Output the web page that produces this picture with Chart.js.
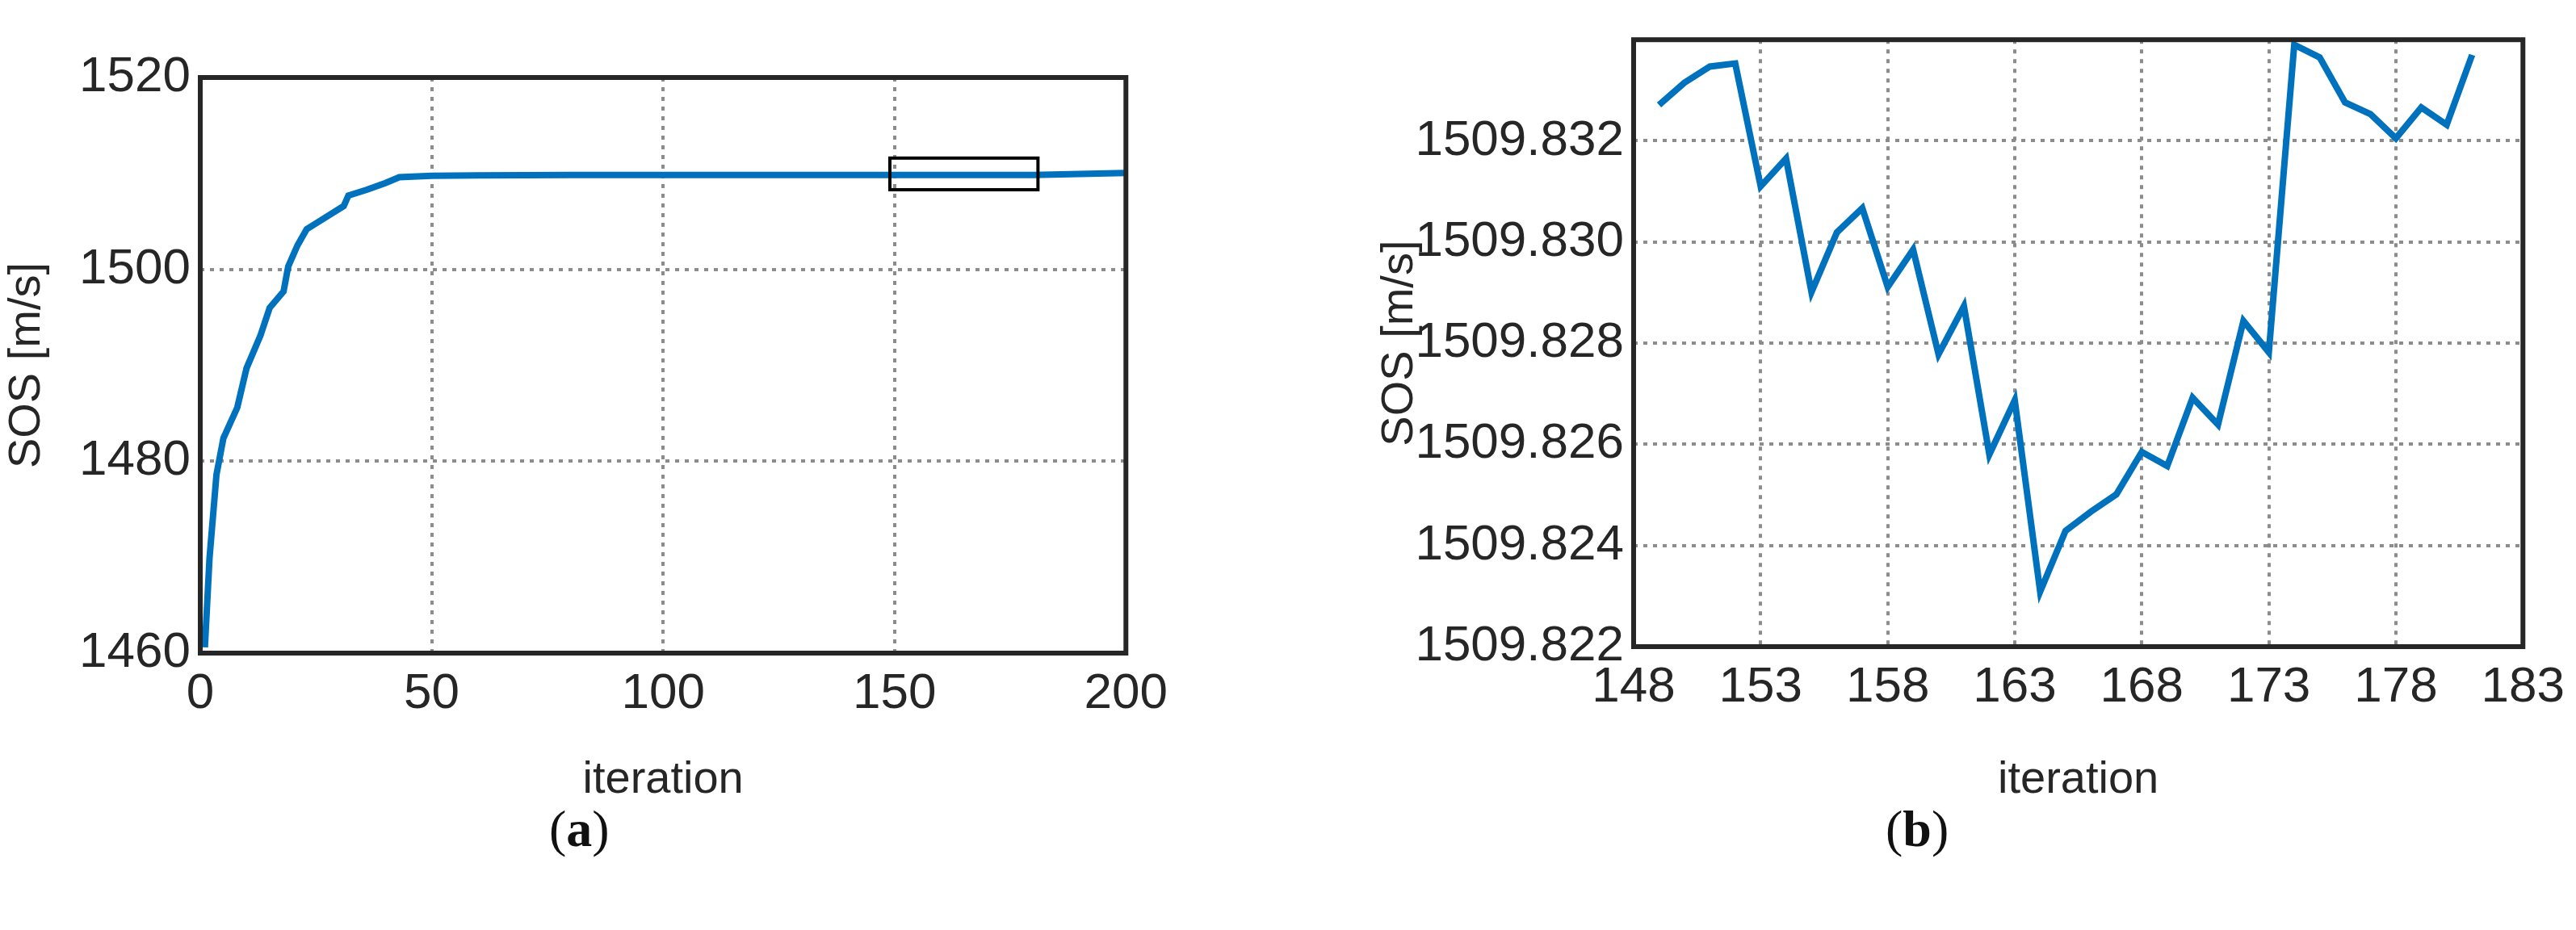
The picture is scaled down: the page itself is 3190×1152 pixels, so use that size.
<!DOCTYPE html>
<html>
<head>
<meta charset="utf-8">
<script src="https://cdn.jsdelivr.net/npm/chart.js@4.4.1/dist/chart.umd.min.js"></script>
<style>
  body { margin: 0; background: #fff; width: 3190px; height: 1152px; position: relative; overflow: hidden; }
  .box { position: absolute; }
  .lab { position: absolute; top: 990px; font-family: "Liberation Serif", serif; font-size: 64px; color: #111; }
</style>
</head>
<body>
<div class="box" style="left:0;top:0;width:1460px;height:1000px"><canvas id="chartA"></canvas></div>
<div class="box" style="left:1700px;top:0;width:1490px;height:1000px"><canvas id="chartB"></canvas></div>
<div class="lab" style="left:680px">(<b>a</b>)</div>
<div class="lab" style="left:2335px">(<b>b</b>)</div>
<script>
// panel (a): whole run
const iterA = [1, 2, 3.5, 5, 8, 10, 13, 15, 18, 19, 21, 23, 26, 31, 32, 36, 40, 43, 50, 60, 80, 100, 120, 140, 160, 180, 190, 200];
const sosA  = [1460.6, 1469.9, 1478.6, 1482.4, 1485.6, 1489.7, 1493.1, 1496.0, 1497.7, 1500.3, 1502.5, 1504.2, 1505.1, 1506.6, 1507.7, 1508.3, 1509.0, 1509.6, 1509.75, 1509.8, 1509.83, 1509.83, 1509.83, 1509.83, 1509.83, 1509.83, 1509.95, 1510.05];

// panel (b): zoom on iterations 149-181
const iterB = [149,150,151,152,153,154,155,156,157,158,159,160,161,162,163,164,165,166,167,168,169,170,171,172,173,174,175,176,177,178,179,180,181];
const sosB  = [1509.83271,1509.83315,1509.83347,1509.83353,1509.83110,1509.83165,1509.82901,1509.83019,1509.83067,1509.82911,
               1509.82985,1509.82778,1509.82873,1509.82580,1509.82687,1509.82309,1509.82429,1509.82467,1509.82501,1509.82585,
               1509.82557,1509.82692,1509.82639,1509.82844,1509.82782,1509.83390,1509.83365,1509.83276,1509.83253,1509.83205,
               1509.83266,1509.83232,1509.83370];

const zoomBox = { x0: 149, x1: 181, y0: 1508.3, y1: 1511.6 };

const tickFont = { family: '"Liberation Sans Narrow", "Liberation Sans", Arial', size: 62 };
const titleFont = { family: '"Liberation Sans", Arial', size: 56 };
const ink = '#262626';

const frame = {
  id: 'frame',
  afterDatasetsDraw(chart) {
    const a = chart.chartArea, ctx = chart.ctx;
    ctx.save();
    ctx.strokeStyle = ink;
    ctx.lineWidth = 6;
    ctx.strokeRect(a.left, a.top, a.right - a.left, a.bottom - a.top);
    const o = chart.options.plugins.frame;
    if (o && o.box) {
      const xs = chart.scales.x, ys = chart.scales.y, b = o.box;
      ctx.lineWidth = 4;
      ctx.strokeStyle = '#000';
      const l = xs.getPixelForValue(b.x0), r = xs.getPixelForValue(b.x1);
      const t = ys.getPixelForValue(b.y1), bt = ys.getPixelForValue(b.y0);
      ctx.strokeRect(l, t, r - l, bt - t);
    }
    ctx.restore();
  }
};

function makeChart(id, xs, ys, opt) {
  return new Chart(document.getElementById(id), {
    type: 'line',
    data: {
      datasets: [{
        data: xs.map((x, i) => ({ x: x, y: ys[i] })),
        borderColor: '#0072BD',
        borderWidth: opt.lw,
        pointRadius: 0,
        tension: 0
      }]
    },
    options: {
      responsive: true,
      maintainAspectRatio: false,
      animation: false,
      layout: { padding: opt.pad },
      plugins: { legend: { display: false }, tooltip: { enabled: false }, frame: { box: opt.box } },
      scales: {
        x: {
          type: 'linear', min: opt.xmin, max: opt.xmax,
          afterFit: s => { s.height = opt.xh; },
          ticks: { stepSize: opt.xstep, color: ink, font: tickFont, padding: 14, maxRotation: 0 },
          grid: { color: '#8c8c8c', lineWidth: 4, drawTicks: false },
          border: { display: false, dash: [5, 7] },
          title: { display: true, text: 'iteration', color: ink, font: titleFont, padding: 0 }
        },
        y: {
          min: opt.ymin, max: opt.ymax,
          afterFit: s => { s.width = opt.yw; },
          ticks: {
            stepSize: opt.ystep, color: ink, font: tickFont, padding: 12,
            callback: opt.ycb
          },
          grid: { color: '#8c8c8c', lineWidth: 4, drawTicks: false },
          border: { display: false, dash: [5, 7] },
          title: { display: true, text: 'SOS [m/s]', color: ink, font: titleFont, padding: 0 }
        }
      }
    },
    plugins: [frame]
  });
}

makeChart('chartA', iterA, sosA, {
  lw: 8, xmin: 0, xmax: 200, xstep: 50, ymin: 1460, ymax: 1520, ystep: 20,
  xh: 191, yw: 248, pad: { top: 96, right: 54, bottom: 0, left: 0 }, box: zoomBox,
  ycb: v => v
});

makeChart('chartB', iterB, sosB, {
  lw: 8, xmin: 148, xmax: 183, xstep: 5, ymin: 1509.822, ymax: 1509.834, ystep: 0.002,
  xh: 199, yw: 323, pad: { top: 21, right: 28, bottom: 0, left: 0 }, box: null,
  ycb: v => v > 1509.8335 ? '' : v.toFixed(3)
});
</script>
</body>
</html>
